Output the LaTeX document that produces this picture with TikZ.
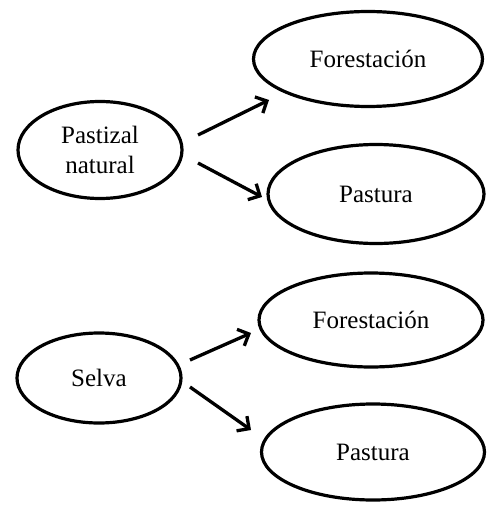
\documentclass[tikz,border=0pt]{standalone}
\usepackage{fontspec}
\setmainfont{Liberation Serif}
\usetikzlibrary{shapes.geometric,arrows.meta}
\begin{document}
\begin{tikzpicture}[x=1pt,y=-1pt,
  oval/.style={ellipse,draw=black,line width=3.2pt,inner sep=0pt,align=center,
    font=\fontsize{25}{30}\selectfont},
  link/.style={line width=3.3pt,-{Straight Barb[length=9pt,width=18pt,line width=3.3pt]}}]
\useasboundingbox (0,0) rectangle (491,505);
\node[oval,minimum width=164pt,minimum height=97pt] (pn) at (100,150) {Pastizal\\natural};
\node[oval,minimum width=229pt,minimum height=95pt] (f1) at (368,59) {Forestación};
\node[oval,minimum width=216pt,minimum height=99pt] (p1) at (376,194) {Pastura};
\node[oval,minimum width=164pt,minimum height=90pt] (s) at (99,378) {Selva};
\node[oval,minimum width=224pt,minimum height=94pt] (f2) at (371,320) {Forestación};
\node[oval,minimum width=223pt,minimum height=96pt] (p2) at (373,452) {Pastura};
\coordinate (a1s) at (198,135); \coordinate (a1e) at (269,100);
\coordinate (a2s) at (198,163); \coordinate (a2e) at (262,197);
\coordinate (a3s) at (190,360); \coordinate (a3e) at (251,333);
\coordinate (a4s) at (190,387); \coordinate (a4e) at (251,430);
\draw[link] (a1s) -- (a1e);
\draw[link] (a2s) -- (a2e);
\draw[link] (a3s) -- (a3e);
\draw[link] (a4s) -- (a4e);
\end{tikzpicture}
\end{document}
